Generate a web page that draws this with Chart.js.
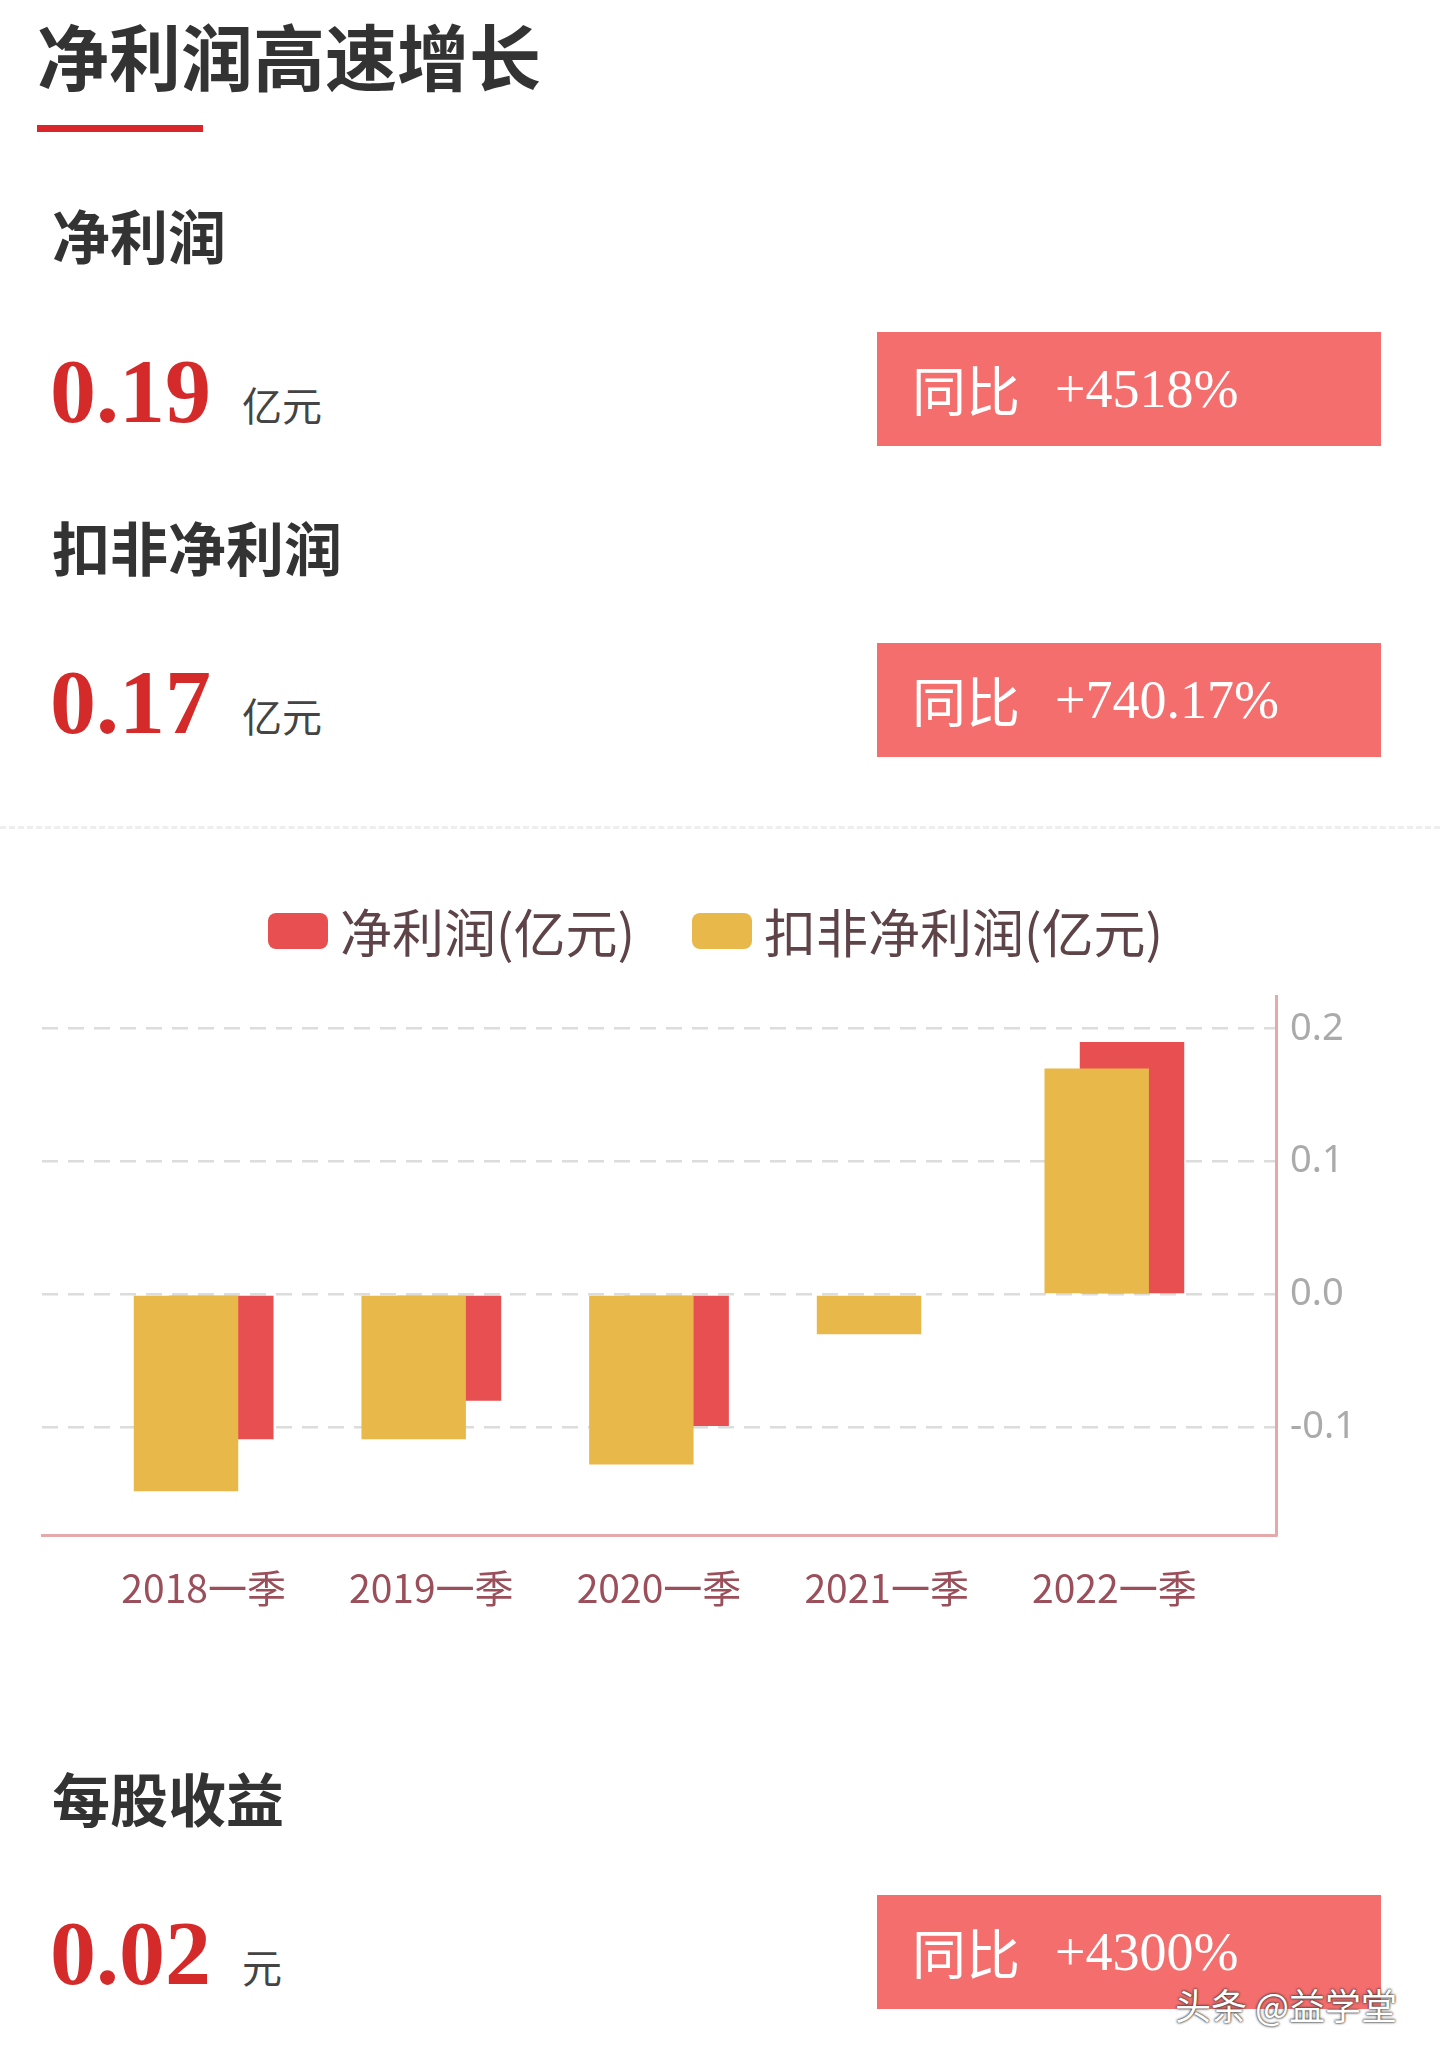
<!DOCTYPE html>
<html><head><meta charset="utf-8">
<script src="https://cdn.jsdelivr.net/npm/chart.js@4"></script>
<style>
body{margin:0;width:1440px;height:2061px;background:#fff;position:relative;overflow:hidden;font-family:"Noto Sans CJK SC","Noto Sans",sans-serif}
.a{position:absolute;white-space:nowrap}
.h{font-weight:bold;color:#333;font-size:58px;line-height:1}
.num{font-family:"Liberation Serif",serif;font-weight:bold;color:#d42a2a;font-size:92px;line-height:1}
.unit{color:#444;font-size:40px;line-height:1}
.box{position:absolute;left:877px;width:504px;height:114px;background:#f56e6e;color:#fff}
.box span{position:absolute;top:50%;transform:translateY(-50%);font-size:54px;line-height:1}
.lg{position:absolute;top:893px;display:flex;align-items:center;font-size:52px;color:#5e4348}
.sw{width:60px;height:36px;border-radius:8px;margin-right:12px}
</style></head><body>
<div class="a" style="left:37px;top:18px;font-size:72px;font-weight:bold;color:#333;line-height:1">净利润高速增长</div>
<div class="a" style="left:37px;top:125px;width:166px;height:7px;background:#d9262a"></div>

<div class="a h" style="left:52px;top:205px">净利润</div>
<div class="a num" style="left:50px;top:345px">0.19</div>
<div class="a unit" style="left:242px;top:384px">亿元</div>
<div class="box" style="top:332px"><span style="left:35px">同比</span><span style="left:178px;font-family:'Liberation Serif',serif">+4518%</span></div>

<div class="a h" style="left:52px;top:517px">扣非净利润</div>
<div class="a num" style="left:50px;top:656px">0.17</div>
<div class="a unit" style="left:242px;top:695px">亿元</div>
<div class="box" style="top:643px"><span style="left:35px">同比</span><span style="left:178px;font-family:'Liberation Serif',serif">+740.17%</span></div>

<div class="a" style="left:0;top:826px;width:1440px;border-top:3px dashed #eee"></div>

<div class="lg" style="left:268px"><div class="sw" style="background:#e84f50"></div>净利润(亿元)</div>
<div class="lg" style="left:692px"><div class="sw" style="background:#e9b84b"></div>扣非净利润(亿元)</div>

<div class="a" style="left:0;top:960px;width:1440px;height:660px"><canvas id="c"></canvas></div>

<div class="a h" style="left:52px;top:1768px">每股收益</div>
<div class="a num" style="left:50px;top:1907px">0.02</div>
<div class="a unit" style="left:242px;top:1946px">元</div>
<div class="box" style="top:1895px"><span style="left:35px">同比</span><span style="left:178px;font-family:'Liberation Serif',serif">+4300%</span></div>
<div class="a" style="left:1175px;top:1978px;font-size:36px;color:#fff;text-shadow:0 0 3px #333,0 0 2px #333">头条 @益学堂</div>

<script>
const categories=["2018一季","2019一季","2020一季","2021一季","2022一季"];
const netProfit=[-0.109,-0.080,-0.099,-0.001,0.190];
const deductedProfit=[-0.148,-0.109,-0.128,-0.030,0.170];
const yTicks=[-0.1,0,0.1,0.2];
const toPts=a=>a.map((v,i)=>({x:i,y:v}));
new Chart(document.getElementById('c'),{
 type:'bar',
 data:{datasets:[
  {label:'净利润(亿元)',data:toPts(netProfit),backgroundColor:'#e84f50',categoryPercentage:0.31,barPercentage:2.96,order:2},
  {label:'扣非净利润(亿元)',data:toPts(deductedProfit),backgroundColor:'#e9b84b',categoryPercentage:0.31,barPercentage:2.96,order:1}
 ]},
 options:{responsive:true,maintainAspectRatio:false,animation:false,
  layout:{padding:{left:42,top:19,right:0,bottom:0}},
  plugins:{legend:{display:false},tooltip:{enabled:false}},
  scales:{
   x:{type:'linear',min:-0.71,max:4.71,offset:false,
      afterBuildTicks:s=>{s.ticks=categories.map((c,i)=>({value:i}));},
      afterFit:s=>{s.height=85;},
      ticks:{callback:v=>categories[v],color:'#9b4f5a',font:{size:39,family:'Noto Sans CJK SC'},padding:22,maxRotation:0},
      grid:{display:false},border:{color:'#e3a9ab',width:3}},
   y:{position:'right',min:-0.181,max:0.224,
      afterBuildTicks:s=>{s.ticks=yTicks.map(v=>({value:v}));},
      afterFit:s=>{s.width=164;},
      ticks:{callback:v=>v.toFixed(1),color:'#aaa',font:{size:38,family:'Noto Sans'},padding:14},
      grid:{color:'#dcdcdc',lineWidth:2.5,drawTicks:false},border:{color:'#e3a9ab',width:3,dash:[16,10]}}
  }
 }
});
</script>
</body></html>
